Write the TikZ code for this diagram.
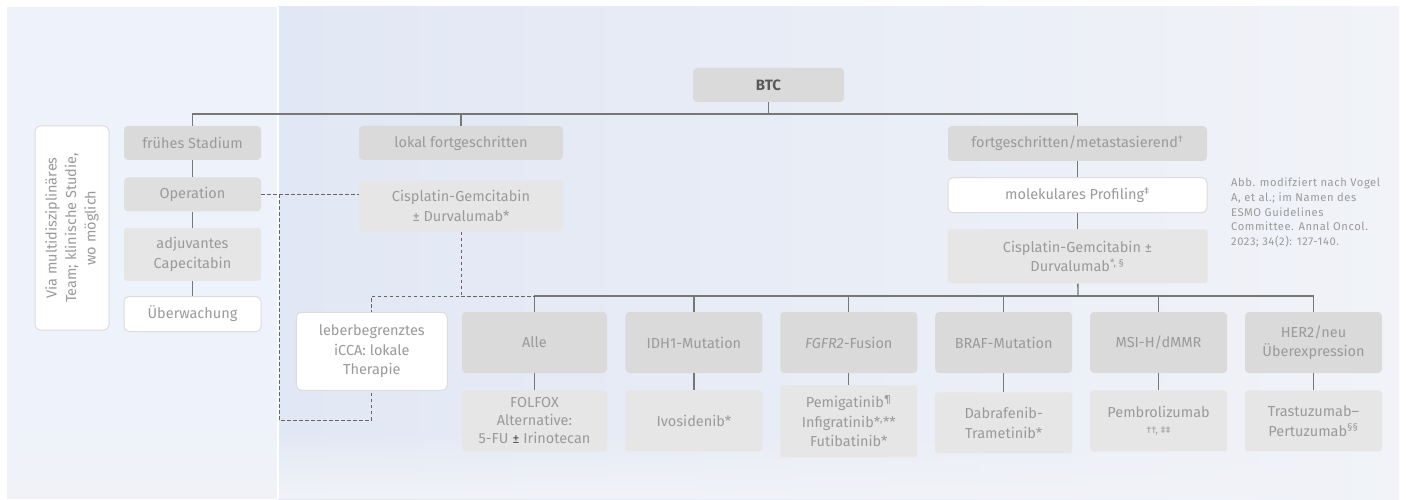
\documentclass[tikz,border=0pt]{standalone}
\usepackage{fontspec}
\setmainfont{Fira Sans}
\newfontfamily\citefont[LetterSpace=5]{Fira Sans}
\usepackage{tikz}
\usetikzlibrary{positioning,fadings,calc}
\usepackage{xcolor}
\definecolor{btdark}{HTML}{DADADA}
\definecolor{btmid}{HTML}{DFDFDF}
\definecolor{btlight}{HTML}{E6E6E6}
\definecolor{btborder}{HTML}{DCDCDC}
\definecolor{btgray}{HTML}{9A9A9A}
\definecolor{btink}{HTML}{5A5A5A}
\definecolor{btline}{HTML}{777777}
\definecolor{btdash}{HTML}{666666}
\definecolor{bgleft}{HTML}{EEF2FA}
\definecolor{bgmid}{HTML}{E1E7F4}
\definecolor{bgright}{HTML}{F1F3F8}
\tikzfading[name=fadeup, top color=transparent!100, bottom color=transparent!0]

\begin{document}
\begin{tikzpicture}[
  x=1pt, y=-1pt,
  node distance=16pt,
  every node/.style={font=\fontsize{14.5}{19.5}\selectfont, text=btgray},
  hdr/.style={
    rectangle, fill=btdark, rounded corners=4pt, inner sep=0pt,
    minimum width=137pt, minimum height=61pt, align=center
  },
  trt/.style={
    rectangle, fill=btlight, rounded corners=3pt, inner sep=0pt,
    minimum width=137pt, minimum height=61pt, align=center
  },
  wht/.style={
    rectangle, draw=btborder, line width=1pt, fill=white,
    rounded corners=5pt, inner sep=0pt, align=center
  },
  link/.style={draw=btline, line width=1.3pt},
  dlink/.style={draw=btdash, line width=0.9pt, dash pattern=on 3.5pt off 2.5pt},
]
  \useasboundingbox (0,0) rectangle (1406,500);

  % Background panels
  \fill[white] (0,0) rectangle (1406,500);
  \fill[bgleft] (7,7) rectangle (278,499);
  \shade[left color=bgmid, right color=bgright] (278,7) rectangle (1399,499);
  \fill[bgright, path fading=fadeup] (7,430) rectangle (1399,499);
  \draw[white, line width=1.5pt] (278,7) -- (278,499);

  % Root
  \node[hdr, minimum width=151pt, minimum height=34pt, text=btink,
    font=\fontsize{15}{19}\selectfont\bfseries] (btc) at (768.5,85) {BTC};

  % Early stage
  \node[hdr, minimum height=34pt] (frueh) at (192.5,143) {frühes Stadium};
  \node[hdr, fill=btmid, minimum height=34pt, below=17pt of frueh] (op) {Operation};
  \node[trt, minimum height=53pt, below=16pt of op] (adj) {adjuvantes\\Capecitabin};
  \node[wht, minimum width=137pt, minimum height=35pt, below=15pt of adj] (ueber) {Überwachung};

  % Tumour board
  \node[wht, rotate=90, minimum width=204pt, minimum height=74pt] (mdt) at (72,228)
    {Via multidisziplinäres\\Team; klinische Studie,\\wo möglich};

  % Locally advanced
  \node[hdr, minimum width=204pt, minimum height=34pt] (lokal) at (461,143) {lokal fortgeschritten};
  \node[trt, minimum width=204pt, minimum height=51pt, below=20pt of lokal] (cisl)
    {Cisplatin-Gemcitabin\\± Durvalumab*};

  % Advanced / metastatic
  \node[hdr, minimum width=259pt, minimum height=35pt] (meta) at (1077.5,143.5)
    {fortgeschritten/metastasierend\textsuperscript{†}};
  \node[wht, minimum width=259pt, minimum height=35pt, below=16pt of meta] (prof)
    {molekulares Profiling\textsuperscript{‡}};
  \node[trt, minimum width=260pt, minimum height=54pt, below=16pt of prof] (cism)
    {Cisplatin-Gemcitabin ±\\Durvalumab\textsuperscript{*, §}};

  % Molecular subgroups
  \node[hdr, minimum width=145pt] (alle) at (534.5,342.5) {Alle};
  \node[hdr, right=18pt of alle] (idh) {IDH1-Mutation};
  \node[hdr, right=17.5pt of idh] (fgfr) {\textit{FGFR2}-Fusion};
  \node[hdr, right=17.5pt of fgfr] (braf) {BRAF-Mutation};
  \node[hdr, right=17.5pt of braf] (msi) {MSI-H/dMMR};
  \node[hdr, right=17.5pt of msi] (her) {HER2/neu\\Überexpression};

  % Treatments
  \node[trt, minimum width=145pt, below=17pt of alle, font=\fontsize{14.5}{18}\selectfont] (folfox)
    {FOLFOX\\Alternative:\\5-FU {\color{btink}±} Irinotecan};
  \node[trt, below=17pt of idh] (ivo) {Ivosidenib*};
  \node[trt, minimum height=72pt, below=12pt of fgfr] (pemi)
    {Pemigatinib\textsuperscript{¶}\\Infigratinib*\textsuperscript{,}**\\Futibatinib*};
  \node[trt, below=19pt of braf] (dabra) {Dabrafenib-\\Trametinib*};
  \node[trt, below=17pt of msi] (pembro)
    {Pembrolizumab\\[-3pt]{\fontsize{10}{12}\selectfont ††, ‡‡}};
  \node[trt, below=17pt of her] (trastu) {Trastuzumab–\\Pertuzumab\textsuperscript{§§}};

  % Local therapy
  \node[wht, minimum width=151pt, minimum height=78pt,
    left=14pt of alle.north west, anchor=north east] (leber)
    {leberbegrenztes\\iCCA: lokale\\Therapie};

  % Reference
  \node[anchor=north west, align=left, inner sep=0pt,
    font=\citefont\fontsize{11.2}{14.6}\selectfont] (cite) at (1231,178)
    {Abb. modifziert nach Vogel\\A, et al.; im Namen des\\ESMO Guidelines\\Committee. Annal Oncol.\\2023; 34(2): 127-140.};

  % Tree lines
  \coordinate (bus) at (768.5,114);
  \coordinate (bus2) at (1078,296);
  \draw[link] (btc) -- (bus);
  \draw[link] (frueh.north) |- (bus) -| (meta.north);
  \draw[link] (lokal.north) -- (lokal.north |- bus);
  \draw[link] (frueh) -- (op) -- (adj) -- (ueber);
  \draw[link] (meta) -- (prof) -- (cism);
  \draw[link] (cism) -- (bus2);
  \draw[link] (alle.north) |- (bus2) -| (her.north);
  \foreach \n in {idh,fgfr,braf,msi}
    \draw[link] (\n.north) -- (\n.north |- bus2);
  \foreach \a/\b in {alle/folfox,idh/ivo,fgfr/pemi,braf/dabra,msi/pembro,her/trastu}
    \draw[link] (\a) -- (\b);

  % Dashed links
  \coordinate (djog) at (279,420);
  \draw[dlink] (op.east) -- (op.east -| cisl.west);
  \draw[dlink] (op.east -| djog) -- (djog) -| (leber.south);
  \draw[dlink] (cisl.south) |- (leber.north |- bus2) -- (leber.north);
  \draw[dlink] (cisl.south |- bus2) -- (alle.north |- bus2);
\end{tikzpicture}
\end{document}
